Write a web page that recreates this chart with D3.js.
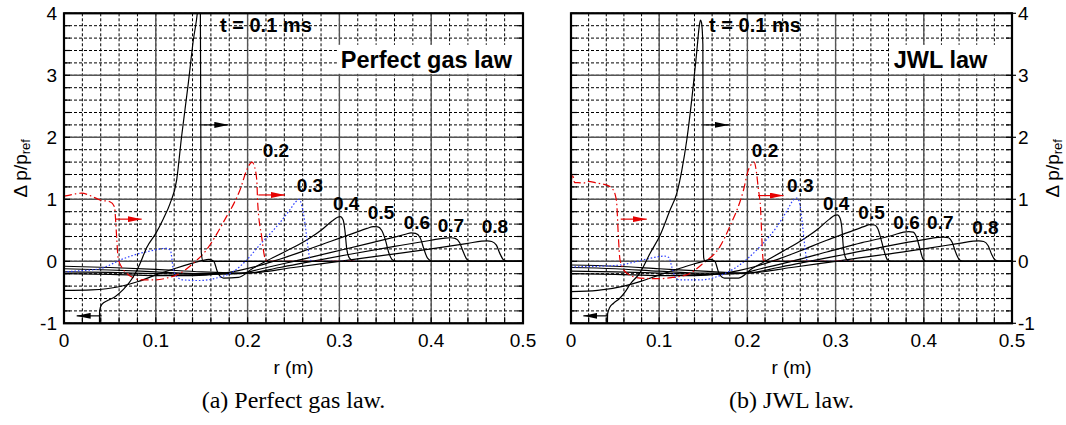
<!DOCTYPE html>
<html>
<head>
<meta charset="utf-8">
<script src="https://cdnjs.cloudflare.com/ajax/libs/d3/7.8.5/d3.min.js"></script>
<style>
body { margin: 0; background: #fff; }
svg { display: block; font-family: "Liberation Sans", Arial, sans-serif; }
.grid-minor { stroke: #000; stroke-width: 1; stroke-dasharray: 3,2; }
.grid-major { stroke: #555; stroke-width: 1.4; }
.tick { stroke: #000; stroke-width: 1.2; }
.frame { fill: none; stroke: #000; stroke-width: 2.2; }
.tick-label { font-size: 19px; fill: #000; }
.axis-title { font-size: 19px; fill: #000; }
.curve { fill: none; stroke-width: 1.2; }
.curve--black { stroke: #000; }
.curve--red { stroke: #e60000; stroke-dasharray: 8,3,1.5,3; }
.curve--blue { stroke: #2a3cff; stroke-dasharray: 1.5,2; }
.arrow { stroke-width: 1.2; }
.time-label { font-size: 19px; font-weight: bold; }
.t-label { font-size: 20px; font-weight: bold; }
.law-label { font-size: 23.5px; font-weight: bold; }
.caption { font-family: "Liberation Serif", "DejaVu Serif", serif; font-size: 24px; }
</style>
</head>
<body>
<div class="svg-container"></div>
<script>
var xTicks = [0, 0.1, 0.2, 0.3, 0.4, 0.5];
var yTicks = [-1, 0, 1, 2, 3, 4];
var timeLabels = ['0.2', '0.3', '0.4', '0.5', '0.6', '0.7', '0.8'];
var curveColors = ['black', 'red', 'blue', 'black', 'black', 'black', 'black', 'black'];

// perfect gas law, t = 0.1 ... 0.8 ms  [r (m), dp/pref]
var gasT1 = [[0.0385,-1.2],[0.0388,-0.8],[0.041,-0.7],[0.048,-0.63],[0.0556,-0.57],[0.065,-0.45],[0.0755,-0.25],[0.083,-0.03],[0.09,0.22],[0.1,0.45],[0.108,0.68],[0.1155,0.93],[0.1227,1.31],[0.128,2.0],[0.1354,2.87],[0.1409,3.57],[0.1452,4.0],[0.147,4.3],[0.1485,4.25],[0.1495,0.15],[0.1515,0],[0.5,0]];
var gasT2 = [[0,1.05],[0.01,1.08],[0.019,1.1],[0.03,1.05],[0.039,0.99],[0.05,0.96],[0.055,0.88],[0.0565,0.6],[0.0575,0.35],[0.059,0.05],[0.063,-0.1],[0.068,-0.19],[0.075,-0.26],[0.083,-0.3],[0.1,-0.3],[0.112,-0.27],[0.1227,-0.22],[0.132,-0.14],[0.141,-0.03],[0.155,0.18],[0.166,0.43],[0.177,0.72],[0.185,0.93],[0.1917,1.15],[0.199,1.47],[0.203,1.58],[0.205,1.6],[0.207,1.55],[0.21,1.31],[0.211,0.94],[0.2153,0.4],[0.219,0.05],[0.222,0],[0.32,0]];
var gasT3 = [[0,-0.17],[0.02,-0.15],[0.039,-0.12],[0.05,-0.06],[0.061,0.02],[0.072,0.08],[0.083,0.13],[0.095,0.17],[0.105,0.2],[0.112,0.21],[0.116,0.17],[0.119,-0.12],[0.123,-0.25],[0.13,-0.3],[0.148,-0.31],[0.166,-0.27],[0.184,-0.17],[0.199,0.02],[0.2135,0.27],[0.228,0.5],[0.246,0.83],[0.252,0.95],[0.256,1.0],[0.259,0.9],[0.2625,0.61],[0.266,0.2],[0.268,0.03],[0.271,0],[0.32,0]];
var gasT4 = [[0,-0.47],[0.03,-0.46],[0.06,-0.41],[0.08,-0.33],[0.1,-0.22],[0.12,-0.12],[0.14,-0.03],[0.15,0.01],[0.158,0.03],[0.163,0.0],[0.168,-0.2],[0.174,-0.27],[0.19,-0.26],[0.205,-0.12],[0.22,0.0],[0.24,0.15],[0.264,0.34],[0.28,0.5],[0.292,0.65],[0.298,0.71],[0.301,0.72],[0.304,0.67],[0.306,0.5],[0.308,0.2],[0.311,0.05],[0.316,0],[0.5,0]];
var gasT5 = [[0,-0.2],[0.05,-0.21],[0.1,-0.23],[0.14,-0.23],[0.17,-0.2],[0.19,-0.15],[0.21,-0.08],[0.23,0.01],[0.26,0.16],[0.29,0.32],[0.315,0.45],[0.33,0.53],[0.337,0.56],[0.342,0.555],[0.346,0.5],[0.35,0.35],[0.354,0.13],[0.358,0.02],[0.362,0],[0.5,0]];
var gasT6 = [[0,-0.17],[0.05,-0.18],[0.1,-0.2],[0.15,-0.21],[0.19,-0.2],[0.215,-0.12],[0.25,0.0],[0.29,0.14],[0.33,0.28],[0.36,0.39],[0.373,0.44],[0.378,0.46],[0.383,0.45],[0.388,0.38],[0.392,0.2],[0.396,0.05],[0.401,0],[0.5,0]];
var gasT7 = [[0,-0.12],[0.05,-0.14],[0.1,-0.17],[0.15,-0.2],[0.2,-0.19],[0.235,-0.1],[0.27,0.0],[0.31,0.11],[0.36,0.24],[0.4,0.34],[0.415,0.375],[0.421,0.38],[0.426,0.37],[0.431,0.3],[0.435,0.15],[0.439,0.03],[0.443,0],[0.5,0]];
var gasT8 = [[0,-0.08],[0.05,-0.1],[0.1,-0.13],[0.15,-0.17],[0.2,-0.19],[0.25,-0.1],[0.3,0.0],[0.35,0.1],[0.4,0.2],[0.44,0.29],[0.455,0.325],[0.461,0.33],[0.466,0.32],[0.471,0.26],[0.475,0.12],[0.479,0.02],[0.483,0],[0.5,0]];

// JWL law, t = 0.1 ... 0.8 ms
var jwlT1 = [[0.0412,-1.2],[0.0415,-0.85],[0.044,-0.74],[0.048,-0.68],[0.055,-0.6],[0.062,-0.48],[0.067,-0.37],[0.078,-0.19],[0.0897,0.13],[0.101,0.42],[0.1124,0.83],[0.12,1.1],[0.1257,1.47],[0.1313,1.96],[0.1389,2.87],[0.1427,3.4],[0.1455,3.8],[0.1468,3.89],[0.148,3.85],[0.1495,3.5],[0.15,0.3],[0.1505,0.05],[0.152,0],[0.5,0]];
var jwlT2 = [[0,1.26],[0.002,1.4],[0.004,1.27],[0.008,1.27],[0.014,1.26],[0.0185,1.29],[0.03,1.26],[0.0405,1.23],[0.048,1.15],[0.0505,1.05],[0.0518,0.94],[0.0537,0.4],[0.0556,0.02],[0.063,-0.19],[0.0783,-0.27],[0.1,-0.28],[0.115,-0.26],[0.131,-0.22],[0.15,-0.03],[0.169,0.24],[0.18,0.56],[0.1956,1.15],[0.201,1.47],[0.205,1.57],[0.2077,1.6],[0.2096,1.5],[0.2126,1.15],[0.2145,0.94],[0.218,0.02],[0.221,0],[0.32,0]];
var jwlT3 = [[0,-0.09],[0.03,-0.08],[0.0556,-0.06],[0.078,0.01],[0.0973,0.07],[0.106,0.085],[0.111,0.06],[0.1143,-0.09],[0.118,-0.25],[0.123,-0.3],[0.1475,-0.3],[0.165,-0.25],[0.188,-0.09],[0.2145,0.24],[0.2335,0.56],[0.245,0.82],[0.2523,0.99],[0.256,1.02],[0.259,0.95],[0.2618,0.67],[0.265,0.25],[0.2675,0.02],[0.27,0],[0.315,0]];
var jwlT4 = [[0,-0.49],[0.03,-0.47],[0.06,-0.4],[0.08,-0.32],[0.1,-0.22],[0.12,-0.13],[0.14,-0.04],[0.15,0.0],[0.158,0.03],[0.163,0.0],[0.168,-0.2],[0.174,-0.27],[0.19,-0.27],[0.205,-0.12],[0.22,0.0],[0.24,0.16],[0.264,0.36],[0.28,0.52],[0.293,0.68],[0.299,0.74],[0.302,0.75],[0.305,0.7],[0.307,0.55],[0.309,0.2],[0.312,0.04],[0.316,0],[0.5,0]];
var jwlT5 = [[0,-0.2],[0.05,-0.21],[0.1,-0.23],[0.14,-0.23],[0.17,-0.2],[0.19,-0.15],[0.21,-0.08],[0.23,0.01],[0.26,0.17],[0.29,0.34],[0.315,0.47],[0.332,0.56],[0.339,0.59],[0.344,0.585],[0.348,0.52],[0.352,0.33],[0.356,0.12],[0.359,0.02],[0.363,0],[0.5,0]];
var jwlT6 = [[0,-0.16],[0.05,-0.17],[0.1,-0.19],[0.15,-0.21],[0.19,-0.2],[0.215,-0.12],[0.25,0.0],[0.29,0.15],[0.33,0.3],[0.365,0.42],[0.377,0.47],[0.383,0.48],[0.388,0.47],[0.392,0.38],[0.396,0.18],[0.399,0.04],[0.403,0],[0.5,0]];
var jwlT7 = [[0,-0.1],[0.05,-0.12],[0.1,-0.16],[0.15,-0.19],[0.2,-0.19],[0.235,-0.1],[0.27,0.0],[0.31,0.11],[0.36,0.25],[0.4,0.35],[0.416,0.385],[0.4226,0.39],[0.428,0.38],[0.432,0.31],[0.436,0.15],[0.44,0.03],[0.444,0],[0.5,0]];
var jwlT8 = [[0,-0.06],[0.05,-0.08],[0.1,-0.12],[0.15,-0.16],[0.2,-0.19],[0.25,-0.1],[0.3,0.0],[0.35,0.1],[0.4,0.2],[0.44,0.29],[0.456,0.325],[0.4623,0.33],[0.468,0.32],[0.473,0.25],[0.477,0.11],[0.481,0.02],[0.485,0],[0.5,0]];

var Panel = function(opts) {
	this.opts = opts;
	this.top = 13.3;
	this.bottom = 323.3;
};

Panel.prototype.draw = function(svg, id) {
	var o = this.opts;
	var _this = this;

	var xScale = d3.scaleLinear().domain([0, 0.5]).range([o.left, o.right]);
	var yScale = d3.scaleLinear().domain([-1, 4]).range([_this.bottom, _this.top]);

	var g = svg.append('g');

	g.append('clipPath')
		.attr('id', 'clip-' + id)
		.append('rect')
		.attr('x', o.left)
		.attr('y', _this.top)
		.attr('width', o.right - o.left)
		.attr('height', _this.bottom - _this.top);

	var xMinor = d3.range(0, 0.5001, 0.02);
	var yMinor = d3.range(-1, 4.0001, 0.2);

	g.selectAll('.gx-minor')
		.data(xMinor)
		.enter().append('line')
		.attr('class', 'grid-minor')
		.attr('x1', function(d) { return xScale(d); })
		.attr('x2', function(d) { return xScale(d); })
		.attr('y1', _this.top)
		.attr('y2', _this.bottom);

	g.selectAll('.gy-minor')
		.data(yMinor)
		.enter().append('line')
		.attr('class', 'grid-minor')
		.attr('x1', o.left)
		.attr('x2', o.right)
		.attr('y1', function(d) { return yScale(d); })
		.attr('y2', function(d) { return yScale(d); });

	g.selectAll('.gx-major')
		.data(xTicks)
		.enter().append('line')
		.attr('class', 'grid-major')
		.attr('x1', function(d) { return xScale(d); })
		.attr('x2', function(d) { return xScale(d); })
		.attr('y1', _this.top)
		.attr('y2', _this.bottom);

	g.selectAll('.gy-major')
		.data(yTicks)
		.enter().append('line')
		.attr('class', 'grid-major')
		.attr('x1', o.left)
		.attr('x2', o.right)
		.attr('y1', function(d) { return yScale(d); })
		.attr('y2', function(d) { return yScale(d); });

	// minor tick marks, inside the frame
	g.selectAll('.tx')
		.data(xMinor)
		.enter().append('line')
		.attr('class', 'tick')
		.attr('x1', function(d) { return xScale(d); })
		.attr('x2', function(d) { return xScale(d); })
		.attr('y1', _this.bottom)
		.attr('y2', _this.bottom - 6);

	[o.left, o.right].forEach(function(xx, i) {
		var dir = i === 0 ? 1 : -1;
		g.selectAll('.ty' + i)
			.data(yMinor)
			.enter().append('line')
			.attr('class', 'tick')
			.attr('x1', xx)
			.attr('x2', xx + dir * 6)
			.attr('y1', function(d) { return yScale(d); })
			.attr('y2', function(d) { return yScale(d); });
	});

	// law label with white box
	var law = g.append('text')
		.attr('class', 'law-label')
		.attr('x', xScale(o.lawAt[0]))
		.attr('y', yScale(o.lawAt[1]))
		.attr('text-anchor', 'end')
		.attr('dominant-baseline', 'central')
		.text(o.law);
	var bb = law.node().getBBox();
	g.insert('rect', '.law-label')
		.attr('x', bb.x - 4)
		.attr('y', yScale(o.lawAt[1]) - 15)
		.attr('width', o.right - bb.x + 4)
		.attr('height', 29)
		.attr('fill', '#fff');

	var line = d3.line()
		.x(function(d) { return xScale(d[0]); })
		.y(function(d) { return yScale(d[1]); })
		.curve(d3.curveMonotoneX);

	var cg = g.append('g').attr('clip-path', 'url(#clip-' + id + ')');
	o.curves.slice().reverse().forEach(function(c, k) {
		var i = o.curves.length - 1 - k;
		cg.append('path')
			.datum(c)
			.attr('class', 'curve curve--' + curveColors[i])
			.attr('d', line);
	});

	o.arrows.forEach(function(a) {
		var col = a[2] === 'red' ? '#e60000' : '#000';
		g.append('line')
			.attr('class', 'arrow')
			.attr('stroke', col)
			.attr('x1', xScale(a[0][0]))
			.attr('y1', yScale(a[0][1]))
			.attr('x2', xScale(a[1][0]))
			.attr('y2', yScale(a[1][1]))
			.attr('marker-end', 'url(#head-' + a[2] + ')');
	});

	g.append('text')
		.attr('class', 't-label')
		.attr('x', xScale(o.tAt[0]))
		.attr('y', yScale(o.tAt[1]))
		.attr('dominant-baseline', 'central')
		.text('t = 0.1 ms');

	g.selectAll('.tl')
		.data(timeLabels)
		.enter().append('text')
		.attr('class', 'time-label')
		.attr('x', function(d, i) { return xScale(o.labelAt[i][0]); })
		.attr('y', function(d, i) { return yScale(o.labelAt[i][1]); })
		.attr('dominant-baseline', 'central')
		.text(function(d) { return d; });

	g.append('rect')
		.attr('class', 'frame')
		.attr('x', o.left)
		.attr('y', _this.top)
		.attr('width', o.right - o.left)
		.attr('height', _this.bottom - _this.top);

	g.selectAll('.xl')
		.data(xTicks)
		.enter().append('text')
		.attr('class', 'tick-label')
		.attr('x', function(d) { return xScale(d); })
		.attr('y', _this.bottom + 24)
		.attr('text-anchor', 'middle')
		.text(function(d) { return d3.format('')(d); });

	var side = o.axisSide === 'left';
	var axisX = side ? o.left : o.right;
	if (!side) {
		g.selectAll('.yt')
			.data(yTicks)
			.enter().append('line')
			.attr('class', 'tick')
			.attr('x1', axisX)
			.attr('x2', axisX + 4)
			.attr('y1', function(d) { return yScale(d); })
			.attr('y2', function(d) { return yScale(d); });
	}
	g.selectAll('.yl')
		.data(yTicks)
		.enter().append('text')
		.attr('class', 'tick-label')
		.attr('x', side ? axisX - 7 : axisX + 6)
		.attr('y', function(d) { return yScale(d); })
		.attr('text-anchor', side ? 'end' : 'start')
		.attr('dominant-baseline', 'central')
		.text(function(d) { return d; });

	var tx = side ? 20 : 1052;
	var ty = (_this.top + _this.bottom) / 2;
	var title = g.append('text')
		.attr('class', 'axis-title')
		.attr('transform', 'translate(' + tx + ',' + ty + ') rotate(-90)')
		.attr('text-anchor', 'middle')
		.attr('dominant-baseline', 'central');
	title.append('tspan').text('\u0394 p/p');
	title.append('tspan')
		.attr('font-size', '13px')
		.attr('dy', 5)
		.text('ref');

	var cx = (o.left + o.right) / 2;
	g.append('text')
		.attr('class', 'axis-title')
		.attr('x', cx)
		.attr('y', 374)
		.attr('text-anchor', 'middle')
		.text('r (m)');

	g.append('text')
		.attr('class', 'caption')
		.attr('x', cx)
		.attr('y', 408)
		.attr('text-anchor', 'middle')
		.text(o.caption);
};

var svg = d3.select('.svg-container')
	.append('svg')
	.attr('width', 1066)
	.attr('height', 425);

var defs = svg.append('defs');
[['black', '#000'], ['red', '#e60000']].forEach(function(m) {
	defs.append('marker')
		.attr('id', 'head-' + m[0])
		.attr('markerUnits', 'userSpaceOnUse')
		.attr('markerWidth', 14)
		.attr('markerHeight', 6)
		.attr('refX', 14)
		.attr('refY', 3)
		.attr('orient', 'auto')
		.append('path')
		.attr('d', 'M0,0L14,3L0,6Z')
		.attr('fill', m[1]);
});

new Panel({
	left: 64, right: 523, axisSide: 'left',
	law: 'Perfect gas law', caption: '(a) Perfect gas law.',
	lawAt: [0.488, 3.25], tAt: [0.17, 3.81],
	curves: [gasT1, gasT2, gasT3, gasT4, gasT5, gasT6, gasT7, gasT8],
	labelAt: [[0.2165, 1.795], [0.2535, 1.23], [0.293, 0.94], [0.331, 0.78], [0.37, 0.62], [0.407, 0.585], [0.455, 0.56]],
	arrows: [
		[[0.15, 2.2], [0.179, 2.2], 'black'],
		[[0.0556, 0.68], [0.0846, 0.68], 'red'],
		[[0.2117, 1.07], [0.2407, 1.07], 'red'],
		[[0.041, -0.88], [0.0138, -0.88], 'black']
	]
}).draw(svg, 'gas');

new Panel({
	left: 571, right: 1012, axisSide: 'right',
	law: 'JWL law', caption: '(b) JWL law.',
	lawAt: [0.472, 3.25], tAt: [0.1566, 3.81],
	curves: [jwlT1, jwlT2, jwlT3, jwlT4, jwlT5, jwlT6, jwlT7, jwlT8],
	labelAt: [[0.205, 1.795], [0.245, 1.23], [0.2857, 0.94], [0.3258, 0.78], [0.3655, 0.62], [0.4037, 0.62], [0.4548, 0.55]],
	arrows: [
		[[0.15, 2.2], [0.179, 2.2], 'black'],
		[[0.0564, 0.68], [0.0859, 0.68], 'red'],
		[[0.212, 1.06], [0.241, 1.06], 'red'],
		[[0.042, -0.88], [0.014, -0.88], 'black']
	]
}).draw(svg, 'jwl');
</script>
</body>
</html>
